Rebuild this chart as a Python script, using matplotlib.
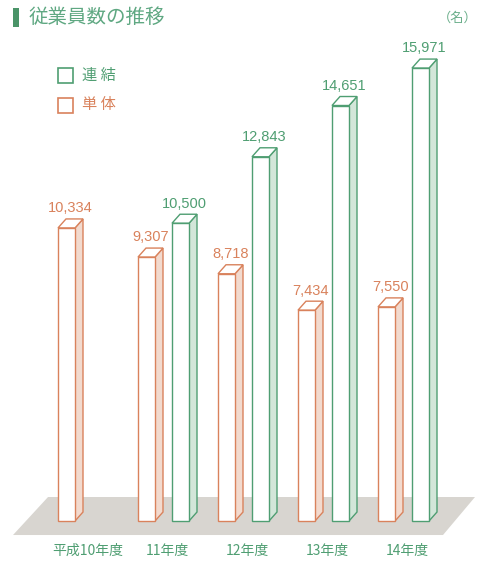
import matplotlib
matplotlib.use('Agg')
import matplotlib.pyplot as plt
from matplotlib.patches import Polygon, Rectangle

plt.rcParams['font.family'] = ['Noto Sans CJK JP', 'DejaVu Sans']

# data
years = ['平成10年度', '11年度', '12年度', '13年度', '14年度']
tantai = [10334, 9307, 8718, 7434, 7550]      # 単体
renketsu = [None, 10500, 12843, 14651, 15971]  # 連結

green = '#4f9e72'
green_side = '#d3e6d9'
orange = '#d9825c'
orange_side = '#f2dace'
floor_col = '#d8d5d0'

fig = plt.figure(figsize=(4.91, 5.61), dpi=100)
ax = fig.add_axes([0, 0, 1, 1])
ax.set_xlim(-0.725, 5.4125)
ax.set_ylim(-1410, 18371)
ax.axis('off')

w = 0.2125      # bar width
gap = 0.425     # offset of 連結 bar from 単体 bar
dx, dy = 0.1, 317   # depth offset

# floor
ax.add_patch(Polygon([(-0.5625, -494), (4.8125, -494), (5.2125, 846), (-0.125, 846)],
                     closed=True, facecolor=floor_col, edgecolor='none', zorder=1))


def bar3d(x0, h, edge, side):
    ax.add_patch(Polygon([(x0 + w, 0), (x0 + w + dx, dy), (x0 + w + dx, h + dy), (x0 + w, h)],
                         closed=True, facecolor=side, edgecolor=edge, lw=1.0, zorder=3))
    ax.add_patch(Polygon([(x0, h), (x0 + w, h), (x0 + w + dx, h + dy), (x0 + dx, h + dy)],
                         closed=True, facecolor='white', edgecolor=edge, lw=1.0, zorder=3))
    ax.add_patch(Rectangle((x0, 0), w, h, facecolor='white', edgecolor=edge, lw=1.0, zorder=4))
    ax.text(x0 + w / 2 + dx / 2, h + dy + 130, f'{h:,}', ha='center', va='bottom',
            fontsize=10.5, color=edge, family=['Liberation Sans', 'DejaVu Sans'], zorder=5)


for i, (t, r) in enumerate(zip(tantai, renketsu)):
    bar3d(i, t, orange, orange_side)
    if r is not None:
        bar3d(i + gap, r, green, green_side)
    ax.text(i + (gap + w) / 2 + 0.05, -1040, years[i], ha='center', va='center',
            fontsize=10, color=green)

# title
fig.patches.append(Rectangle((13 / 491, 1 - 27 / 561), 6 / 491, 19 / 561,
                             transform=fig.transFigure, facecolor='#4a9468', edgecolor='none'))
fig.text(29 / 491, 1 - 17 / 561, '従業員数の推移', ha='left', va='center',
         fontsize=14, color='#5fa882')
fig.text(478 / 491, 1 - 18 / 561, '（名）', ha='right', va='center', fontsize=9.5, color='#6aae8a')

# legend
for k, (lab, col) in enumerate([('連 結', green), ('単 体', orange)]):
    yc = 1 - (75 + 30 * k) / 561
    fig.patches.append(Rectangle((58 / 491, yc - 7.5 / 561), 15 / 491, 15 / 561,
                                 transform=fig.transFigure, facecolor='white',
                                 edgecolor=col, lw=1.2))
    fig.text(82 / 491, yc, lab, ha='left', va='center', fontsize=11, color=col)

fig.savefig('out.png', dpi=100)
